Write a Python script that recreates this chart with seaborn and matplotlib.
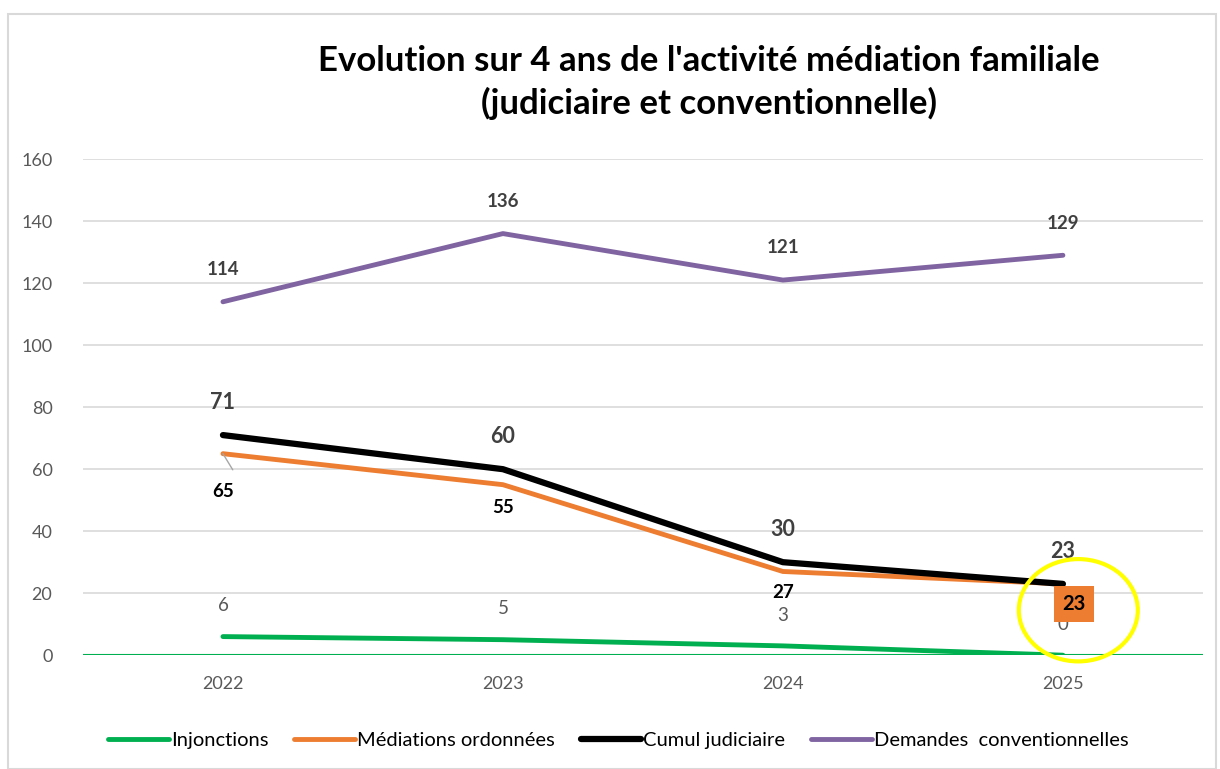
import matplotlib
matplotlib.use("Agg")
import matplotlib.pyplot as plt
import numpy as np
import pandas as pd
import seaborn as sns
from matplotlib.patches import Ellipse, Rectangle

# data
years = ["2022", "2023", "2024", "2025"]
injonctions = [6, 5, 3, 0]
mediations = [65, 55, 27, 23]
cumul = [71, 60, 30, 23]
demandes = [114, 136, 121, 129]

series_names = ["Injonctions", "Médiations ordonnées", "Cumul judiciaire", "Demandes  conventionnelles"]
colors = ["#00B050", "#ED7D31", "#000000", "#8064A2"]
widths = [3.5, 3.5, 4.5, 3.5]

df = pd.DataFrame({"year": years,
                   series_names[0]: injonctions,
                   series_names[1]: mediations,
                   series_names[2]: cumul,
                   series_names[3]: demandes})
long = df.melt(id_vars="year", var_name="serie", value_name="val")

sns.set_style("white")
plt.rcParams["font.family"] = ["Lato", "DejaVu Sans"]

fig = plt.figure(figsize=(12.2, 7.69), dpi=100)
ax = fig.add_axes([0.068, 0.148, 0.918, 0.645])

for name, c, w in zip(series_names, colors, widths):
    sub = long[long["serie"] == name]
    sns.lineplot(data=sub, x="year", y="val", color=c, linewidth=w, ax=ax,
                 label=name, sort=False, solid_capstyle="round")

ax.set_xlim(-0.5, 3.5)
ax.set_ylim(0, 160)
ax.set_yticks(np.arange(0, 161, 20))
ax.yaxis.grid(True, color="#D9D9D9", linewidth=1.2)
ax.set_axisbelow(True)
for s in ax.spines.values():
    s.set_visible(False)
ax.axhline(0, color="#00B050", linewidth=1.5, zorder=1)
ax.tick_params(axis="both", length=0, labelsize=13, labelcolor="#595959")
ax.tick_params(axis="y", pad=22)
ax.tick_params(axis="x", pad=15)
ax.set_xlabel("")
ax.set_ylabel("")

# data labels
gray = "#404040"
med_offsets = [-27, -10, -9]
for i in range(4):
    ax.annotate(str(demandes[i]), (i, demandes[i]), xytext=(0, 17), textcoords="offset points",
                ha="center", va="bottom", fontsize=13.5, fontweight="bold", color=gray)
    ax.annotate(str(cumul[i]), (i, cumul[i]), xytext=(0, 16), textcoords="offset points",
                ha="center", va="bottom", fontsize=15.5, fontweight="bold", color=gray)
    if i < 3:
        ax.annotate(str(mediations[i]), (i, mediations[i]), xytext=(0, med_offsets[i]),
                    textcoords="offset points",
                    ha="center", va="center" if i == 0 else "top", fontsize=13.5,
                    fontweight="bold", color="black")
    ax.annotate(str(injonctions[i]), (i, injonctions[i]), xytext=(0, 16), textcoords="offset points",
                ha="center", va="bottom", fontsize=13.5, color="#595959")

# leader line for 65
ax.plot([0, 0.035], [65, 59.8], color="#A6A6A6", linewidth=1)

# highlighted 2025 médiations label
ax.text(3.04, 16.5, str(mediations[3]), ha="center", va="center", fontsize=14.5, fontweight="bold",
        color="black", zorder=6,
        bbox=dict(boxstyle="square,pad=0.4", facecolor="#ED7D31", edgecolor="none"))
ax.add_patch(Ellipse((3.055, 14.5), width=0.425, height=33, fill=False,
                     edgecolor="#FFFF00", linewidth=3, zorder=7, clip_on=False))

fig.text(0.581, 0.921, "Evolution sur 4 ans de l'activité médiation familiale",
         ha="center", va="center", fontsize=25, fontweight="bold", color="black")
fig.text(0.581, 0.866, "(judiciaire et conventionnelle)",
         ha="center", va="center", fontsize=25, fontweight="bold", color="black")

leg = ax.legend(loc="center", bbox_to_anchor=(0.478, -0.172), ncol=4, frameon=False,
                fontsize=14.5, handlelength=3.0, handletextpad=0.1, columnspacing=1.3)
for t in leg.get_texts():
    t.set_color("black")

fig.patches.append(Rectangle((0.0066, 0.0), 0.99, 0.982, transform=fig.transFigure,
                             fill=False, edgecolor="#D9D9D9", linewidth=1.5))

fig.savefig("out.png", dpi=100)
